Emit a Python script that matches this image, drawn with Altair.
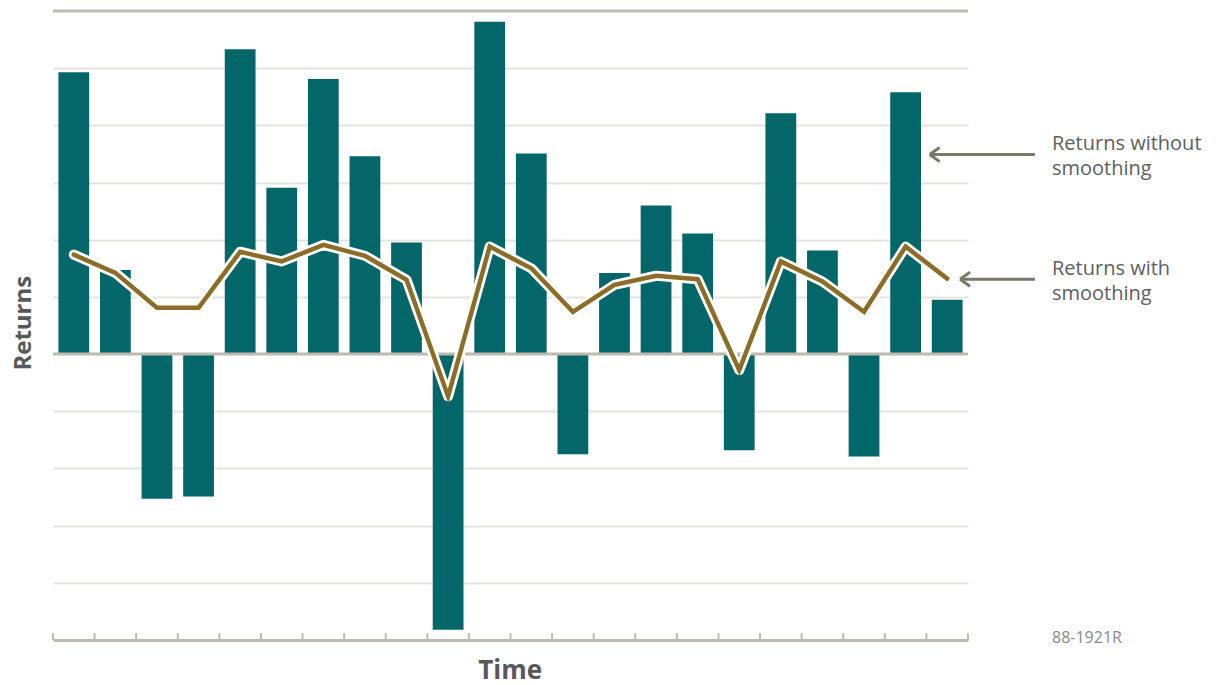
import altair as alt
import pandas as pd

# ---- data ----
periods = list(range(1, 23))
returns_raw = [4.93, 1.47, -2.53, -2.49, 5.33, 2.91, 4.81, 3.46, 1.95, -4.82, 5.81,
               3.51, -1.75, 1.42, 2.60, 2.11, -1.68, 4.21, 1.81, -1.79, 4.58, 0.95]
returns_smooth = [1.74, 1.42, 0.81, 0.81, 1.79, 1.62, 1.91, 1.72, 1.30, -0.74, 1.88,
                  1.50, 0.74, 1.21, 1.37, 1.31, -0.28, 1.62, 1.27, 0.74, 1.88, 1.32]
tick_positions = list(range(0, 23))
grid_values = [-4, -3, -2, -1, 1, 2, 3, 4, 5]
strong_lines = [6, 0]

FONT = "Open Sans"
BAR = "#03676A"
LINE = "#8C6D27"
STRONG = "#BDBAB0"
GRID = "#E4E3DE"
ARROW = "#7A7868"
TEXT = "#5E5E60"
TITLE = "#58585A"

df = pd.DataFrame({"t": periods, "raw": returns_raw, "smooth": returns_smooth})
ticks_df = pd.DataFrame({"pos": tick_positions})
strong_df = pd.DataFrame({"v": strong_lines})
one = pd.DataFrame({"k": [0]})

XS = alt.Scale(domain=[0, 22], nice=False, zero=False)
YS = alt.Scale(domain=[-5, 6], nice=False, zero=False)

xax = alt.Axis(title=None, domain=True, domainColor=STRONG, domainWidth=3,
               ticks=False, labels=False, grid=False)
yax = alt.Axis(title=None, domain=False, ticks=False, labels=False, grid=True,
               values=grid_values, gridColor=GRID, gridWidth=2)

bars = alt.Chart(df).transform_calculate(
    x0="datum.t - 1 + 0.13", x1="datum.t - 0.13"
).mark_bar(color=BAR).encode(
    x=alt.X("x0:Q", scale=XS, axis=xax),
    x2="x1:Q",
    y=alt.Y("raw:Q", scale=YS, axis=yax),
    y2=alt.datum(0),
)

strong = alt.Chart(strong_df).mark_rule(color=STRONG, strokeWidth=3).encode(
    y=alt.Y("v:Q", scale=YS, axis=yax)
)

ticks = alt.Chart(ticks_df).mark_rule(color=STRONG, strokeWidth=2).encode(
    x=alt.X("pos:Q", scale=XS, axis=xax),
    y=alt.datum(-5),
    y2=alt.datum(-4.88),
)

line_base = alt.Chart(df).transform_calculate(xc="datum.t - 0.5")
halo = line_base.mark_line(color="white", strokeWidth=10, strokeJoin="round",
                           strokeCap="round").encode(
    x=alt.X("xc:Q", scale=XS, axis=xax),
    y=alt.Y("smooth:Q", scale=YS, axis=yax),
)
smooth = line_base.mark_line(color=LINE, strokeWidth=4.5, strokeJoin="miter",
                             strokeCap="round").encode(
    x=alt.X("xc:Q", scale=XS, axis=xax),
    y=alt.Y("smooth:Q", scale=YS, axis=yax),
)

# ---- annotations (single-row data so each is drawn once) ----
def shaft(x1, x2, y):
    return alt.Chart(one).mark_rule(color=ARROW, strokeWidth=3).encode(
        x=alt.datum(x1), x2=alt.datum(x2), y=alt.datum(y))

def head(x, y):
    return alt.Chart(one).mark_point(
        shape="M 0 0 L 1.4 -1 M 0 0 L 1.4 1", filled=False, stroke=ARROW,
        strokeWidth=3, size=200, opacity=1
    ).encode(x=alt.datum(x), y=alt.datum(y))

def label(x, y, lines, size=20, color=TEXT, weight=400, angle=0, align="left",
          baseline="alphabetic"):
    return alt.Chart(one).mark_text(
        text=lines, align=align, baseline=baseline, font=FONT, fontSize=size,
        fontWeight=weight, color=color, lineHeight=25, angle=angle
    ).encode(x=alt.datum(x), y=alt.datum(y))

annotations = [
    shaft(21.10, 23.61, 3.49), head(21.08, 3.49),
    shaft(21.83, 23.61, 1.31), head(21.81, 1.31),
    label(24.02, 3.57, ["Returns without", "smoothing"]),
    label(24.02, 1.38, ["Returns with", "smoothing"]),
    label(24.02, -5.05, "88-1921R", size=16, color="#8A8A8A"),
    label(-0.70, 0.54, "Returns", size=24, color=TITLE, weight=700, angle=270,
          align="center", baseline="middle"),
    label(10.99, -5.69, "Time", size=26, color=TITLE, weight=700, align="center"),
]

chart = alt.layer(bars, strong, ticks, halo, smooth, *annotations).properties(
    width=915, height=629,
    autosize=alt.AutoSizeParams(type="none"),
    padding={"left": 45, "top": 3, "right": 235, "bottom": 44},
).configure_view(stroke=None)

chart.save("out.html", embed_options={"renderer": "svg", "actions": False})
